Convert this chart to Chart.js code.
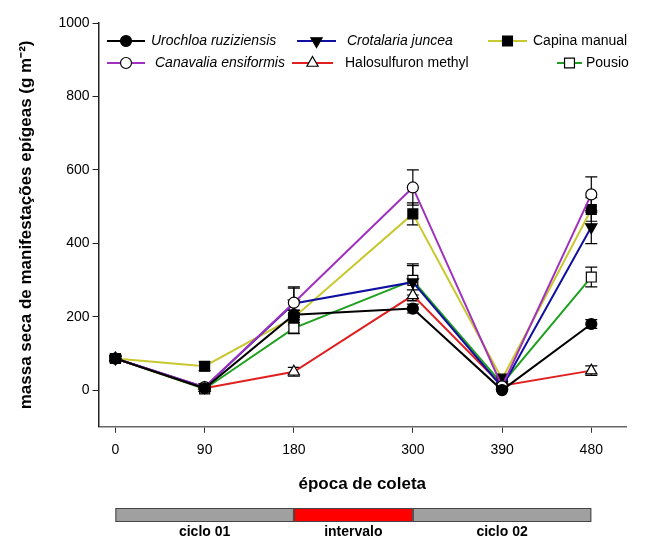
<!DOCTYPE html>
<html>
<head>
<meta charset="utf-8">
<script src="https://cdn.jsdelivr.net/npm/chart.js"></script>
<style>
  body { margin: 0; background: #fff; }
  #wrap { width: 652px; height: 541px; }
</style>
</head>
<body>
<div id="wrap"><canvas id="chart" width="652" height="541"></canvas></div>
<script>
// data (dry mass, g m-2)
const days = [0, 90, 180, 300, 390, 480];
const seriesNames = ['Urochloa ruziziensis', 'Canavalia ensiformis', 'Crotalaria juncea', 'Halosulfuron methyl', 'Capina manual', 'Pousio'];
const urochloa     = [86, 5, 205, 222, 0, 180];
const canavalia    = [86, 8, 238, 552, 10, 533];
const crotalaria   = [86, 8, 236, 294, 8, 444];
const halosulfuron = [86, 5, 50, 258, 12, 53];
const capina       = [86, 65, 198, 480, 30, 492];
const pousio       = [86, 3, 169, 299, 17, 308];
// standard errors
const urochloaErr     = [6, 3, 12, 12, 3, 12];
const canavaliaErr    = [6, 5, 40, 48, 5, 48];
const crotalariaErr   = [6, 5, 45, 50, 5, 45];
const halosulfuronErr = [6, 3, 12, 15, 3, 13];
const capinaErr       = [6, 12, 20, 30, 6, 32];
const pousioErr       = [6, 5, 15, 40, 6, 27];

const yTicks = [0, 200, 400, 600, 800, 1000];
const phases = [
  { label: 'ciclo 01', from: 0, to: 180, color: '#a0a0a0' },
  { label: 'intervalo', from: 180, to: 300, color: '#ff0000' },
  { label: 'ciclo 02', from: 300, to: 480, color: '#a0a0a0' }
];

const FONT = "'Liberation Sans', Arial, sans-serif";

function mk(name, values, errs, color, style, fill, radius, rot) {
  return {
    label: name,
    data: days.map((d, i) => ({ x: d, y: values[i] })),
    errs: errs,
    borderColor: color,
    borderWidth: 2,
    pointStyle: style,
    pointRadius: radius,
    pointRotation: rot || 0,
    pointBackgroundColor: fill,
    pointBorderColor: '#000',
    pointBorderWidth: 1.2,
    fill: false,
    tension: 0
  };
}

const datasets = [
  mk(seriesNames[0], urochloa, urochloaErr, '#000000', 'circle', '#000', 5.5),
  mk(seriesNames[1], canavalia, canavaliaErr, '#a030c0', 'circle', '#fff', 5.5),
  mk(seriesNames[2], crotalaria, crotalariaErr, '#1010a0', 'triangle', '#000', 6.5, 180),
  mk(seriesNames[3], halosulfuron, halosulfuronErr, '#e02020', 'triangle', '#fff', 6.5),
  mk(seriesNames[4], capina, capinaErr, '#c8c830', 'rect', '#000', 7),
  mk(seriesNames[5], pousio, pousioErr, '#20a020', 'rect', '#fff', 7)
];

// error bars drawn under the markers
const errorBars = {
  id: 'errorBars',
  beforeDatasetsDraw(chart) {
    const ctx = chart.ctx, ys = chart.scales.y, xs = chart.scales.x;
    ctx.save();
    ctx.strokeStyle = '#000';
    ctx.lineWidth = 1.2;
    chart.data.datasets.forEach(ds => {
      ds.data.forEach((p, i) => {
        const e = ds.errs[i];
        if (!e) return;
        const x = xs.getPixelForValue(p.x);
        const y1 = ys.getPixelForValue(p.y - e), y2 = ys.getPixelForValue(p.y + e);
        ctx.beginPath();
        ctx.moveTo(x, y1); ctx.lineTo(x, y2);
        ctx.moveTo(x - 6, y1); ctx.lineTo(x + 6, y1);
        ctx.moveTo(x - 6, y2); ctx.lineTo(x + 6, y2);
        ctx.stroke();
      });
    });
    ctx.restore();
  }
};

// same geometry as Chart.js point styles
function drawMarker(ctx, ds, x, y) {
  ctx.save();
  ctx.fillStyle = ds.pointBackgroundColor;
  ctx.strokeStyle = '#000';
  ctx.lineWidth = 1.2;
  const r = ds.pointRadius;
  ctx.beginPath();
  if (ds.pointStyle === 'circle') {
    ctx.arc(x, y, r, 0, Math.PI * 2);
  } else if (ds.pointStyle === 'rect') {
    const s = r * Math.SQRT1_2;
    ctx.rect(x - s, y - s, 2 * s, 2 * s);
  } else {
    let rad = (ds.pointRotation || 0) * Math.PI / 180;
    ctx.moveTo(x + Math.sin(rad) * r, y - Math.cos(rad) * r);
    rad += 2 * Math.PI / 3;
    ctx.lineTo(x + Math.sin(rad) * r, y - Math.cos(rad) * r);
    rad += 2 * Math.PI / 3;
    ctx.lineTo(x + Math.sin(rad) * r, y - Math.cos(rad) * r);
    ctx.closePath();
  }
  ctx.fill();
  ctx.stroke();
  ctx.restore();
}

// legend: three columns, two rows inside the plot
const legendPos = [
  { x0: 107, x1: 145, tx: 151, y: 41, italic: true },
  { x0: 107, x1: 145, tx: 155, y: 63, italic: true },
  { x0: 297, x1: 336, tx: 347, y: 41, italic: true },
  { x0: 292, x1: 333, tx: 345, y: 63, italic: false },
  { x0: 488, x1: 527, tx: 533, y: 41, italic: false },
  { x0: 557, x1: 582, tx: 586, y: 63, italic: false }
];
const legendBox = {
  id: 'legendBox',
  afterDraw(chart) {
    const ctx = chart.ctx;
    ctx.save();
    chart.data.datasets.forEach((ds, i) => {
      const p = legendPos[i];
      ctx.strokeStyle = ds.borderColor;
      ctx.lineWidth = 2;
      ctx.beginPath(); ctx.moveTo(p.x0, p.y); ctx.lineTo(p.x1, p.y); ctx.stroke();
      drawMarker(ctx, ds, (p.x0 + p.x1) / 2, p.y);
      ctx.fillStyle = '#000';
      ctx.font = (p.italic ? 'italic ' : '') + '14px ' + FONT;
      ctx.textBaseline = 'middle';
      ctx.fillText(ds.label, p.tx, p.y);
    });
    ctx.restore();
  }
};

// phase bar under the x axis title
const phaseBar = {
  id: 'phaseBar',
  afterDraw(chart) {
    const ctx = chart.ctx, xs = chart.scales.x;
    ctx.save();
    phases.forEach(ph => {
      const a = xs.getPixelForValue(ph.from), b = xs.getPixelForValue(ph.to);
      ctx.fillStyle = ph.color;
      ctx.fillRect(a, 508, b - a, 14);
      ctx.strokeStyle = '#444';
      ctx.lineWidth = 1;
      ctx.strokeRect(a + 0.5, 508.5, b - a - 1, 13);
      ctx.fillStyle = '#000';
      ctx.font = 'bold 14px ' + FONT;
      ctx.textAlign = 'center';
      ctx.textBaseline = 'middle';
      ctx.fillText(ph.label, (a + b) / 2, 532);
    });
    ctx.restore();
  }
};

new Chart(document.getElementById('chart').getContext('2d'), {
  type: 'line',
  data: { datasets: datasets },
  options: {
    responsive: false,
    animation: false,
    layout: { padding: { top: 23, right: 26, bottom: 46, left: 16 } },
    plugins: {
      legend: { display: false },
      tooltip: { enabled: false }
    },
    scales: {
      x: {
        type: 'linear',
        min: -17,
        max: 515,
        afterBuildTicks: axis => { axis.ticks = days.map(v => ({ value: v })); },
        grid: { drawOnChartArea: false, drawTicks: true, tickLength: 6, tickColor: '#333' },
        border: { color: '#666', width: 1.5 },
        ticks: { color: '#000', font: { family: FONT, size: 14 }, padding: 9, maxRotation: 0, callback: v => String(v) },
        title: { display: true, text: 'época de coleta', color: '#000', font: { family: FONT, size: 17, weight: 'bold' }, padding: { top: 7, bottom: 0 } }
      },
      y: {
        min: -100,
        max: 1000,
        afterBuildTicks: axis => { axis.ticks = yTicks.map(v => ({ value: v })); },
        grid: { drawOnChartArea: false, drawTicks: true, tickLength: 6, tickColor: '#222' },
        border: { color: '#222', width: 1.5 },
        ticks: { color: '#000', font: { family: FONT, size: 14 }, padding: 3, callback: v => String(v) },
        title: { display: true, text: 'massa seca de manifestações epígeas (g m⁻²)', color: '#000', font: { family: FONT, size: 17, weight: 'bold' }, padding: { top: 0, bottom: 19 } }
      }
    }
  },
  plugins: [errorBars, legendBox, phaseBar]
});
</script>
</body>
</html>
